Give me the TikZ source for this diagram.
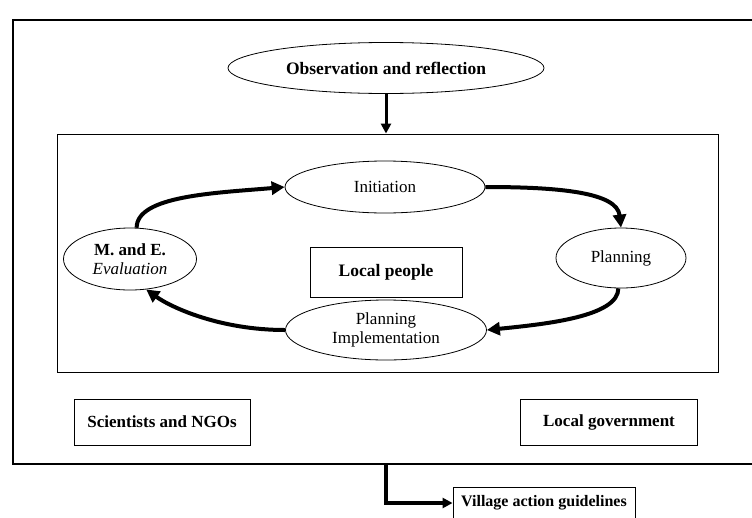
\documentclass[tikz,border=0pt]{standalone}
\usepackage{fontspec}
\setmainfont{Liberation Serif}
\usetikzlibrary{arrows.meta,shapes.geometric}
\begin{document}
\begin{tikzpicture}[x=1pt,y=-1pt,
  ell/.style={draw, ellipse, inner sep=0pt, line width=0.8pt},
  rbox/.style={draw, rectangle, inner sep=0pt, line width=0.9pt},
  bigtxt/.style={font=\fontsize{17.5}{19}\selectfont\bfseries},
  regtxt/.style={font=\fontsize{17}{19}\selectfont},
  smalltxt/.style={font=\fontsize{17}{19}\selectfont\bfseries},
  cyc/.style={line width=4pt, -{Triangle[length=13pt,width=13pt]}},
  straight/.style={line width=3pt, -{Triangle[length=10pt,width=10pt]}}]
\useasboundingbox (0,0) rectangle (752,517);
% outer frame (open to the right edge)
\draw[line width=1.5pt] (754,20) -- (13,20) -- (13,464) -- (754,464);
\coordinate (ob) at (386,464);
% inner frame
\node[rbox, minimum width=661, minimum height=238] (inner) at (387.5,253) {};
% nodes
\node[ell, bigtxt, minimum width=316, minimum height=51] (obs) at (386,68) {Observation and reflection};
\node[ell, regtxt, minimum width=200, minimum height=52] (init) at (385,187) {Initiation};
\node[ell, regtxt, minimum width=130, minimum height=60] (plan) at (621,258) {Planning};
\node[ell, minimum width=133, minimum height=62, align=center, font=\fontsize{17}{19}\selectfont] (me) at (130,259) {\textbf{M. and E.}\\\textit{Evaluation}};
\node[ell, regtxt, minimum width=201, minimum height=60, align=center] (pi) at (386,330) {Planning\\Implementation};
\node[rbox, bigtxt, minimum width=152, minimum height=50] (lp) at (386,272) {Local people};
\node[rbox, smalltxt, minimum width=176, minimum height=46] (sci) at (162,422) {Scientists and NGOs};
\node[rbox, smalltxt, minimum width=177, minimum height=46] (gov) at (609,422) {Local government};
\node[rbox, font=\fontsize{16}{18}\selectfont\bfseries, minimum width=182, minimum height=32] (vag) at (544,503) {Village action guidelines};
% connectors
\draw[straight] (obs.south) -- (obs.south |- inner.north);
\draw[cyc] (me.78) .. controls +(0,-32) and +(-70,6) .. (init.west);
\draw[cyc] (init.east) .. controls +(75,0) and +(-4,-35) .. (plan.north);
\draw[cyc] (plan.-95) .. controls +(0,28) and +(60,-6) .. (pi.east);
\draw[cyc] (pi.west) .. controls +(-65,0) and +(25,18) .. (me.-62);
\draw[line width=3.5pt, -{Triangle[length=10pt,width=10pt]}] (ob) |- (vag.west);
\end{tikzpicture}
\end{document}
